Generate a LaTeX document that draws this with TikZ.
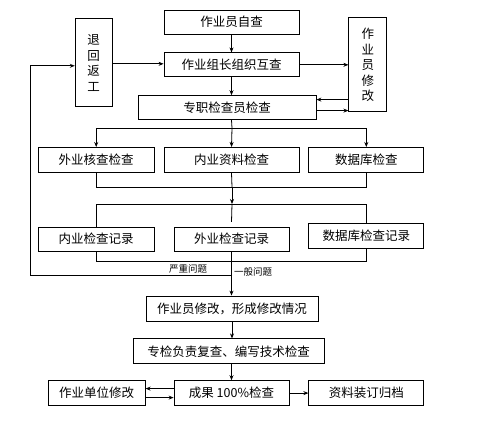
\documentclass[tikz,border=0pt]{standalone}
\usepackage{fontspec}
\usepackage{tikz}
\usetikzlibrary{arrows.meta, positioning}
\newfontfamily\cjk{Noto Sans CJK SC}

\begin{document}
\begin{tikzpicture}[
    x=1pt, y=-1pt, node distance=18pt, >={Stealth[length=5pt,width=4pt]},
    box/.style={rectangle, draw=black, line width=0.8pt, inner sep=0pt, align=center, minimum height=24pt, font=\cjk\fontsize{12.5}{15.5}\selectfont},
    line/.style={draw, line width=0.8pt, black},
    arrow/.style={line, ->},
    note/.style={inner sep=1pt, font=\cjk\fontsize{9.5}{11}\selectfont}
  ]
    \useasboundingbox[fill=white] (0,0) rectangle (480,424);
    % top part
    \node (zicha) [box, minimum width=135pt] at (231.5,22) {作业员自查};
    \node (huzha) [box, minimum width=135pt, below=18pt of zicha] {作业组长组织互查};
    \node (zhuanzhi) [box, minimum width=178pt, below=18pt of huzha, xshift=-4.5pt] {专职检查员检查};
    \node (tuihui) [box, minimum width=37pt, minimum height=88pt, left=51pt of huzha, yshift=2pt] {退\\回\\返\\工};
    \node (xiugai) [box, minimum width=38pt, minimum height=94pt, right=49pt of huzha] {作\\业\\员\\修\\改};
    % three checks
    \node (neiye) [box, minimum width=135pt, minimum height=25pt, below=27pt of zhuanzhi, xshift=4.5pt] {内业资料检查};
    \node (waiye) [box, minimum width=116pt, minimum height=25pt, left=9pt of neiye] {外业核查检查};
    \node (shujuku) [box, minimum width=115pt, minimum height=25pt, right=9pt of neiye] {数据库检查};
    % records
    \node (waijilu) [box, minimum width=115pt, below=54pt of neiye] {外业检查记录};
    \node (neijilu) [box, minimum width=116pt, below=54pt of waiye] {内业检查记录};
    \node (shujilu) [box, minimum width=115pt, minimum height=25pt, below=50pt of shujuku] {数据库检查记录};
    % bottom part
    \node (qingkuang) [box, minimum width=172pt, minimum height=25pt, below=44pt of waijilu, xshift=0.5pt] {作业员修改，形成修改情况};
    \node (fucha) [box, minimum width=191pt, minimum height=25pt, below=17pt of qingkuang, xshift=-3.5pt] {专检负责复查、编写技术检查};
    \node (chengguo) [box, minimum width=115pt, minimum height=25pt, below=16pt of fucha, xshift=3pt] {成果 100\%检查};
    \node (danwei) [box, minimum width=97pt, minimum height=25pt, left=28pt of chengguo] {作业单位修改};
    \node (guidang) [box, minimum width=115pt, minimum height=25pt, right=19pt of chengguo] {资料装订归档};

    \coordinate (split) at (232,128);
    \coordinate (merge) at (232,187);
    \coordinate (split2) at (232,204);
    \coordinate (merge2) at (232,261);
    \coordinate (fork) at (232,275);
    \coordinate (back) at (30,275);

    \draw[arrow] (zicha) -- (huzha);
    \draw[arrow] (huzha.south) -- (huzha.south |- zhuanzhi.north);
    \draw[arrow] ([yshift=-1pt]tuihui.east) -- ([yshift=-1pt]tuihui.east -| huzha.west);
    \draw[arrow] (huzha.east) -- (huzha.east -| xiugai.west);
    \draw[arrow] ([yshift=8pt]zhuanzhi.east -| xiugai.west) -- ([yshift=8pt]zhuanzhi.east);
    \draw[arrow] ([yshift=-3pt]zhuanzhi.east) -- ([yshift=-3pt]zhuanzhi.east -| xiugai.west);

    \draw[line] (huzha.south |- zhuanzhi.south) -- (split);
    \draw[line] (waiye.north |- split) -- (shujuku.north |- split);
    \draw[arrow] (waiye.north |- split) -- (waiye.north);
    \draw[arrow] (split) -- (neiye.north);
    \draw[arrow] (shujuku.north |- split) -- (shujuku.north);

    \draw[line] (waiye.south) -- (waiye.south |- merge) -- (shujuku.south |- merge) -- (shujuku.south);
    \draw[line] (neiye.south) -- (merge);
    \draw[arrow] (merge) -- (split2);
    \draw[line] (neijilu.north) -- (neijilu.north |- split2) -- (shujilu.north |- split2) -- (shujilu.north);
    \draw[line] (split2) -- ([yshift=5pt]waijilu.north);

    \draw[line] (neijilu.south) -- (neijilu.south |- merge2) -- (shujilu.south |- merge2) -- (shujilu.south);
    \draw[arrow] (waijilu.south) -- (waijilu.south |- qingkuang.north);
    \draw[->, line width=0.8pt, >={Stealth[length=5pt,width=4pt,open]}] (fork) -- (back) |- ([yshift=-3pt]tuihui.west);
    \node (yanzhong) [note, anchor=south] at (188,274) {严重问题};
    \node (yiban) [note, anchor=west] at (233,272) {一般问题};

    \draw[arrow] (qingkuang.south) -- (qingkuang.south |- fucha.north);
    \draw[arrow] (chengguo.north |- fucha.south) -- (chengguo.north);
    \draw[arrow] ([yshift=4.5pt]chengguo.west) -- ([yshift=4.5pt]danwei.east);
    \draw[arrow] ([yshift=-4.5pt]danwei.east) -- ([yshift=-4.5pt]chengguo.west);
    \draw[arrow] (chengguo.east) -- (guidang.west);
  \end{tikzpicture}
\end{document}
